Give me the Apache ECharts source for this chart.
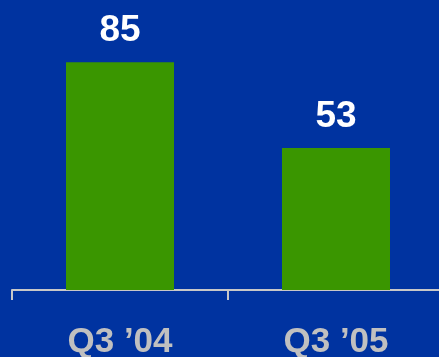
<!DOCTYPE html>
<html>
<head>
<meta charset="utf-8">
<script src="https://cdn.jsdelivr.net/npm/echarts@6/dist/echarts.min.js"></script>
<style>
  html, body { margin: 0; padding: 0; background: #0033a0; }
</style>
</head>
<body>
<div id="chart" style="width:439px;height:357px;"></div>
<script>
  var categories = ['Q3 ’04', 'Q3 ’05']
  var values = [85, 53]

  var myChart = echarts.init(document.getElementById('chart'))
  myChart.setOption({
    backgroundColor: '#0033a0',
    animation: false,
    grid: { left: 12, right: -5, top: 22, bottom: 67, containLabel: false, outerBoundsMode: 'none' },
    xAxis: {
      type: 'category',
      data: categories,
      axisLine: { lineStyle: { color: '#c8c8c8', width: 2 } },
      axisTick: { show: true, length: 10, lineStyle: { color: '#c8c8c8', width: 2 } },
      axisLabel: {
        color: '#c0c0c0',
        fontFamily: 'Liberation Sans',
        fontWeight: 'bold',
        fontSize: 35,
        margin: 35
      }
    },
    yAxis: {
      type: 'value',
      min: 0,
      max: 100,
      show: false,
      splitLine: { show: false }
    },
    series: [{
      type: 'bar',
      data: values,
      barWidth: 108,
      itemStyle: { color: '#3a9600' },
      label: {
        show: true,
        position: 'top',
        distance: 13,
        color: '#ffffff',
        fontFamily: 'Liberation Sans',
        fontWeight: 'bold',
        fontSize: 37
      }
    }]
  })
</script>
</body>
</html>
